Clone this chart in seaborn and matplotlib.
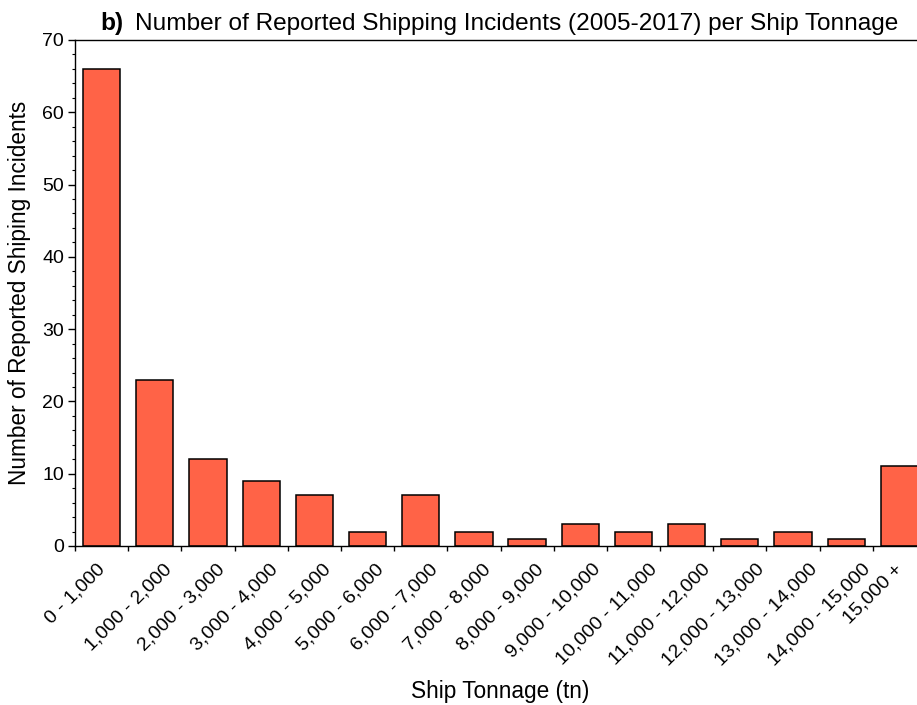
import numpy as np
import pandas as pd
import matplotlib
matplotlib.use("Agg")
import matplotlib.pyplot as plt
import seaborn as sns
from matplotlib.ticker import MultipleLocator

# Tonnage classes and incident counts
tonnage_classes = [
    "0 - 1,000", "1,000 - 2,000", "2,000 - 3,000", "3,000 - 4,000",
    "4,000 - 5,000", "5,000 - 6,000", "6,000 - 7,000", "7,000 - 8,000",
    "8,000 - 9,000", "9,000 - 10,000", "10,000 - 11,000", "11,000 - 12,000",
    "12,000 - 13,000", "13,000 - 14,000", "14,000 - 15,000", "15,000 +",
]
incidents = [66, 23, 12, 9, 7, 2, 7, 2, 1, 3, 2, 3, 1, 2, 1, 11]

df = pd.DataFrame({"tonnage": tonnage_classes, "incidents": incidents})

sns.set_style("ticks")
plt.rcParams["font.family"] = ["Liberation Sans", "DejaVu Sans"]
for key in ["text.color", "axes.labelcolor", "xtick.color", "ytick.color",
            "axes.edgecolor"]:
    plt.rcParams[key] = "black"

W, H = 917, 705
fig = plt.figure(figsize=(W / 100, H / 100), dpi=100)
# axes run slightly past the right edge of the canvas
ax = fig.add_axes([75 / W, (H - 546) / H, 851 / W, 506 / H])

sns.barplot(data=df, x="tonnage", y="incidents", color="#FF6347",
            saturation=1, edgecolor="black", linewidth=1.1, width=0.7, ax=ax)

n = len(tonnage_classes)
ax.set_xlim(-0.5, n - 0.5)
ax.set_ylim(0, 70)

ax.set_xticks(np.arange(n) - 0.5)
ax.set_xticklabels(tonnage_classes, rotation=45, ha="center", va="top",
                   fontsize=14)
ax.yaxis.set_major_locator(MultipleLocator(10))
ax.yaxis.set_minor_locator(MultipleLocator(2))
ax.tick_params(axis="y", which="major", length=5, width=1, labelsize=14,
               pad=3, direction="out")
ax.tick_params(axis="y", which="minor", length=2.4, width=0.8,
               direction="out")
ax.tick_params(axis="x", which="major", length=3.6, width=1, pad=7,
               direction="out")

for side in ["left", "bottom", "top", "right"]:
    ax.spines[side].set_visible(True)
    ax.spines[side].set_linewidth(1.0)
    ax.spines[side].set_color("black")

ax.set_xlabel("Ship Tonnage (tn)", fontsize=16.3)
ax.set_ylabel("Number of Reported Shiping Incidents", fontsize=16.3)
ax.xaxis.set_label_coords(0.5, (546 - 680) / 506)
ax.yaxis.set_label_coords((31 - 75) / 851, 0.5)

fig.text(100 / W, 1 - 30 / H, "b)", fontsize=17.6, fontweight="bold",
         ha="left", va="baseline")
fig.text(135 / W, 1 - 30 / H,
         "Number of Reported Shipping Incidents (2005-2017) per Ship Tonnage",
         fontsize=17.6, ha="left", va="baseline")

fig.savefig("out.png", dpi=100)
